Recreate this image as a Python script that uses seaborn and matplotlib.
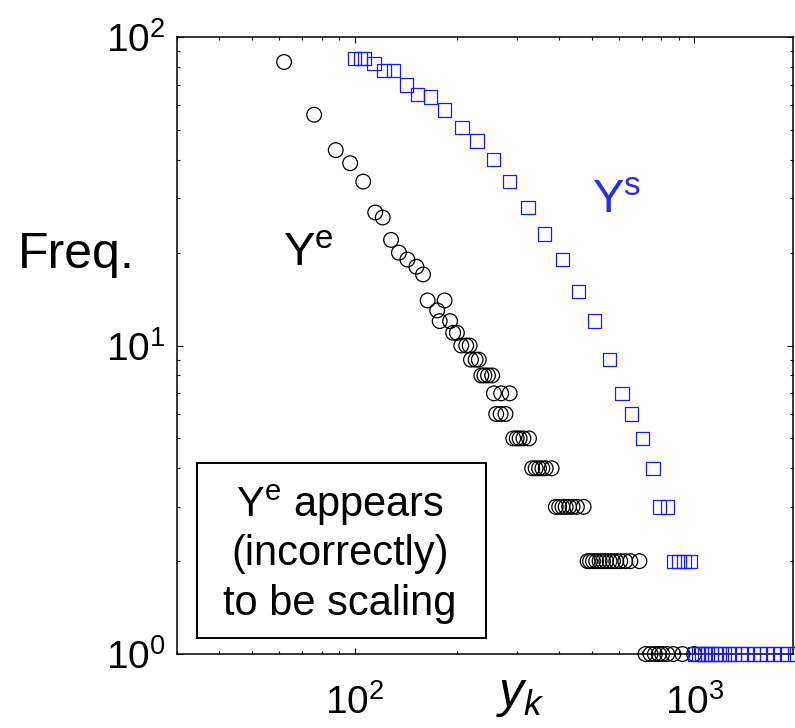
import matplotlib
matplotlib.use("Agg")
import matplotlib.pyplot as plt
import matplotlib.patches as mpatches
import seaborn as sns

# Y^e (black circles): y_k value and its frequency
ye_x = [62, 76, 88, 97, 106, 115, 121, 128, 135, 143, 152, 159,
        164, 184, 175, 178, 191, 195, 200, 206, 213, 218,
        220, 227, 232, 236, 241, 247, 254, 257, 270, 286,
        261, 269, 278, 293, 300, 306, 314, 326,
        333, 341, 349, 357, 365, 380,
        391, 400, 409, 418, 428, 438, 451, 472,
        485, 493, 503, 514, 526, 538, 550, 563, 576, 589, 605, 626, 648, 689,
        718, 743, 765, 786, 804, 832, 867, 922, 998]
ye_freq = [83, 56, 43, 39, 34, 27, 26, 22, 20, 19, 18, 17,
           14, 14, 13, 12, 12, 11, 11, 10, 10, 10,
           9, 9, 9, 8, 8, 8, 8, 7, 7, 7,
           6, 6, 6, 5, 5, 5, 5, 5,
           4, 4, 4, 4, 4, 4,
           3, 3, 3, 3, 3, 3, 3, 3,
           2, 2, 2, 2, 2, 2, 2, 2, 2, 2, 2, 2, 2, 2,
           1, 1, 1, 1, 1, 1, 1, 1, 1]

# Y^s (blue squares)
ys_x = [100, 104, 107, 114, 122, 130, 142, 153, 167, 184, 207, 229, 256,
        285, 324, 362, 409, 456, 508, 562, 612, 652, 705, 755, 789, 832,
        871, 901, 932, 975,
        1000, 1027, 1048, 1069, 1091, 1120, 1151, 1182, 1224, 1266, 1311,
        1373, 1432, 1494, 1559, 1630, 1704, 1800, 1887, 1998]
ys_freq = [85, 85, 85, 82, 78, 78, 70, 65, 64, 58, 51, 46, 40,
           34, 28, 23, 19, 15, 12, 9, 7, 6, 5, 4, 3, 3,
           2, 2, 2, 2,
           1, 1, 1, 1, 1, 1, 1, 1, 1, 1, 1,
           1, 1, 1, 1, 1, 1, 1, 1, 1]

sns.set_style("ticks")
plt.rcParams["font.family"] = ["Liberation Sans", "DejaVu Sans"]
plt.rcParams["mathtext.fontset"] = "custom"
plt.rcParams["mathtext.rm"] = "Liberation Sans"
plt.rcParams["mathtext.it"] = "Liberation Sans:italic"
for key in ["text.color", "axes.labelcolor", "xtick.color", "ytick.color",
            "axes.edgecolor"]:
    plt.rcParams[key] = "black"

fig = plt.figure(figsize=(7.95, 7.28), dpi=100)
ax = fig.add_axes([0.2226, 0.1016, 0.7748, 0.8475])

sns.scatterplot(x=ye_x, y=ye_freq, marker="o", s=112, fc="none", ec="black",
                linewidth=0.9, clip_on=False, zorder=3, ax=ax)
sns.scatterplot(x=ys_x, y=ys_freq, marker="s", s=92, fc="none", ec="#1a1aff",
                linewidth=0.9, clip_on=False, zorder=3, ax=ax)

ax.set(xscale="log", yscale="log", xlim=(30, 1950), ylim=(1, 100))

for side in ["left", "right", "top", "bottom"]:
    ax.spines[side].set_linewidth(1.1)
ax.tick_params(which="both", direction="in", top=True, right=True,
               labelsize=28, width=0.8)
ax.tick_params(which="major", length=4.5)
ax.tick_params(which="minor", length=2.5)
ax.tick_params(axis="x", which="major", pad=22)
ax.tick_params(axis="y", which="major", pad=8)

ax.set_xlabel(r"$y_k$", fontsize=36, va="baseline")
ax.xaxis.set_label_coords(0.558, -0.086)
ax.set_ylabel("Freq.", fontsize=36, rotation=0, ha="left", va="baseline")
ax.yaxis.set_label_coords(-0.258, 0.626)

ax.text(0.172, 0.629, r"$\mathregular{Y^e}$", fontsize=34, color="black",
        transform=ax.transAxes, va="baseline", ha="left")
ax.text(0.674, 0.715, r"$\mathregular{Y^s}$", fontsize=34, color="#2b2bf0",
        transform=ax.transAxes, va="baseline", ha="left")

box = mpatches.Rectangle((0.0325, 0.026), 0.4691, 0.2836, transform=ax.transAxes,
                         fill=False, ec="black", lw=1.4, zorder=4)
ax.add_patch(box)
ax.text(0.2646, 0.222, r"$\mathregular{Y^e}$ appears", fontsize=30,
        transform=ax.transAxes, ha="center", va="baseline")
ax.text(0.2646, 0.144, "(incorrectly)", fontsize=30,
        transform=ax.transAxes, ha="center", va="baseline")
ax.text(0.2646, 0.063, "to be scaling", fontsize=30,
        transform=ax.transAxes, ha="center", va="baseline")

fig.savefig("out.png", dpi=100)
